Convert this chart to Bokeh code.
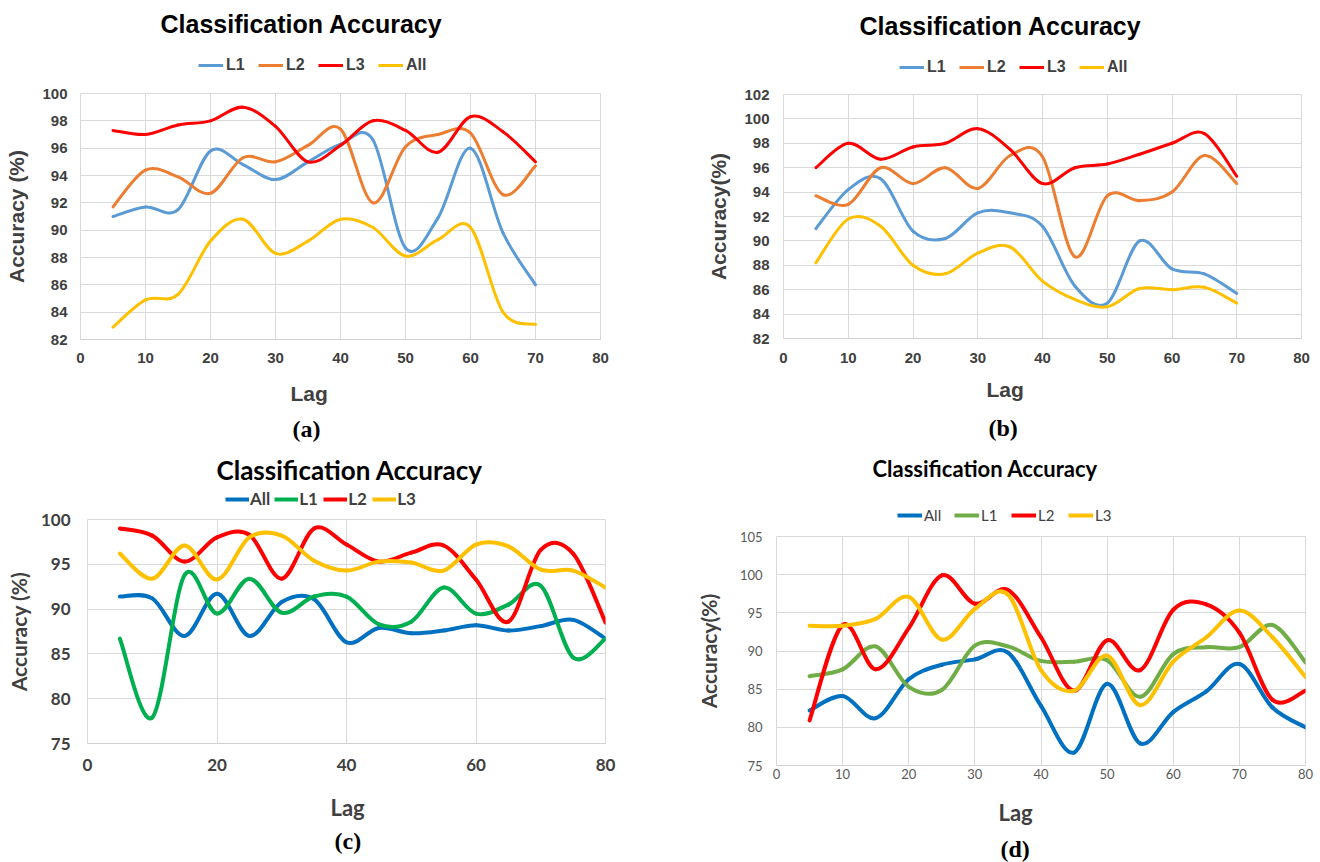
import numpy as np
from bokeh.plotting import figure
from bokeh.layouts import column, row
from bokeh.models import Legend, LegendItem, Label, FixedTicker, Range1d
from bokeh.embed import file_html
from bokeh.resources import INLINE

# ---------------- data ----------------
lags_ab = [5, 10, 15, 20, 25, 30, 35, 40, 45, 50, 55, 60, 65, 70]
lags_cd = [5, 10, 15, 20, 25, 30, 35, 40, 45, 50, 55, 60, 65, 70, 75, 80]

a_L1 = [91.0, 91.7, 91.5, 95.8, 94.8, 93.7, 95.0, 96.3, 96.6, 88.7, 90.9, 96.0, 89.8, 86.0]
a_L2 = [91.7, 94.4, 93.9, 92.7, 95.3, 95.0, 96.2, 97.4, 92.0, 96.1, 97.0, 97.1, 92.6, 94.7]
a_L3 = [97.3, 97.0, 97.7, 98.0, 99.0, 97.6, 95.0, 96.2, 98.0, 97.3, 95.7, 98.3, 97.2, 95.0]
a_All = [82.9, 84.9, 85.3, 89.2, 90.8, 88.3, 89.2, 90.8, 90.2, 88.1, 89.3, 90.2, 84.0, 83.1]

b_L1 = [91.0, 94.2, 95.1, 90.8, 90.2, 92.3, 92.3, 91.2, 86.3, 84.9, 90.0, 87.7, 87.3, 85.7]
b_L2 = [93.7, 93.0, 96.0, 94.7, 96.0, 94.3, 97.0, 96.9, 88.7, 93.7, 93.3, 94.0, 97.0, 94.7]
b_L3 = [96.0, 98.0, 96.7, 97.7, 98.0, 99.2, 97.5, 94.7, 96.0, 96.3, 97.1, 98.0, 98.8, 95.3]
b_All = [88.2, 91.8, 91.2, 88.0, 87.3, 89.0, 89.5, 86.7, 85.2, 84.6, 86.1, 86.0, 86.2, 84.9]

c_All = [91.4, 91.2, 87.0, 91.7, 87.0, 90.8, 91.1, 86.3, 87.9, 87.3, 87.6, 88.2, 87.6, 88.1, 88.8, 86.7]
c_L1 = [86.7, 77.9, 93.8, 89.5, 93.4, 89.6, 91.4, 91.4, 88.3, 88.6, 92.4, 89.5, 90.5, 92.6, 84.6, 86.7]
c_L2 = [99.0, 98.2, 95.3, 98.0, 98.3, 93.4, 99.0, 97.2, 95.3, 96.3, 97.1, 93.3, 88.6, 96.6, 96.2, 88.5]
c_L3 = [96.2, 93.4, 97.1, 93.3, 98.0, 98.2, 95.4, 94.3, 95.3, 95.2, 94.3, 97.2, 97.0, 94.4, 94.3, 92.4]

d_All = [82.2, 84.1, 81.2, 86.3, 88.2, 88.9, 89.8, 82.8, 76.7, 85.7, 77.9, 82.0, 84.7, 88.3, 82.6, 80.0]
d_L1 = [86.7, 87.6, 90.6, 85.3, 84.9, 90.7, 90.6, 88.7, 88.6, 88.8, 84.0, 89.6, 90.5, 90.5, 93.4, 88.5]
d_L2 = [80.9, 93.4, 87.6, 93.0, 99.9, 96.2, 98.0, 91.8, 84.8, 91.4, 87.5, 95.4, 96.1, 92.4, 83.6, 84.8]
d_L3 = [93.3, 93.3, 94.2, 97.1, 91.5, 95.5, 97.4, 87.5, 84.8, 89.4, 82.9, 88.6, 91.8, 95.3, 91.8, 86.6]

x_ticks_10 = [0, 10, 20, 30, 40, 50, 60, 70, 80]
x_ticks_20 = [0, 20, 40, 60, 80]
y_ticks_a = [82, 84, 86, 88, 90, 92, 94, 96, 98, 100]
y_ticks_b = [82, 84, 86, 88, 90, 92, 94, 96, 98, 100, 102]
y_ticks_c = [75, 80, 85, 90, 95, 100]
y_ticks_d = [75, 80, 85, 90, 95, 100, 105]

ARIAL = "Liberation Sans"
CALIBRI = "Lato"
TIMES = "Liberation Serif"
GRID = "#D9D9D9"
DARK = "#404040"
PANEL_W = 660


def smooth_segments(xs, ys):
    """Cubic Bezier pieces through every point (Catmull-Rom style, like a smoothed office chart line)."""
    x = np.asarray(xs, float)
    y = np.asarray(ys, float)
    n = len(x)
    xp = np.r_[x[0], x, x[-1]]
    yp = np.r_[y[0], y, y[-1]]
    return dict(
        x0=x[:-1], y0=y[:-1], x1=x[1:], y1=y[1:],
        cx0=x[:-1] + (xp[2:n + 1] - xp[0:n - 1]) / 6.0,
        cy0=y[:-1] + (yp[2:n + 1] - yp[0:n - 1]) / 6.0,
        cx1=x[1:] - (xp[3:n + 2] - xp[1:n]) / 6.0,
        cy1=y[1:] - (yp[3:n + 2] - yp[1:n]) / 6.0,
    )


def text_strip(height, bl, fw):
    """A bare strip (no axes) whose frame lines up with the chart frame below it.
    Its x data units equal pixels measured from the panel's left edge."""
    f = figure(frame_width=fw, height=height, output_backend="svg", toolbar_location=None,
               x_range=Range1d(bl, bl + fw), y_range=Range1d(0, height),
               x_axis_type=None, y_axis_type=None,
               min_border_left=bl, min_border_right=PANEL_W - bl - fw,
               min_border_top=0, min_border_bottom=0, title=None)
    f.grid.visible = False
    f.outline_line_color = None
    return f


def put_text(f, text, x, y, font, size, color, style="bold"):
    f.add_layout(Label(x=x, y=y, text=text, text_font=font, text_font_size=size,
                       text_font_style=style, text_color=color,
                       text_align="left", text_baseline="middle"))


def make_panel(s):
    bl, fw = s["bl"], s["fw"]

    # ---- header: title + legend
    head = text_strip(s["head_h"], bl, fw)
    put_text(head, "Classification Accuracy", s["title_x"], s["head_h"] - s["title_cy"],
             s["title_font"], s["title_size"], "black")

    # ---- chart
    p = figure(
        title=None, output_backend="svg", toolbar_location=None,
        frame_width=fw, frame_height=s["fh"],
        min_border_left=bl, min_border_right=PANEL_W - bl - fw,
        min_border_top=s["bt"], min_border_bottom=s["bb"],
        x_range=Range1d(0, 80), y_range=Range1d(s["yticks"][0], s["yticks"][-1]),
    )
    p.outline_line_color = GRID
    p.grid.grid_line_color = GRID
    p.grid.grid_line_width = 1
    p.xgrid.ticker = FixedTicker(ticks=s["xticks"])
    p.ygrid.ticker = FixedTicker(ticks=s["yticks"])

    for ax in (p.xaxis[0], p.yaxis[0]):
        ax.major_tick_in = 0
        ax.major_tick_out = 0
        ax.minor_tick_in = 0
        ax.minor_tick_out = 0
        ax.major_label_text_font = s["tick_font"]
        ax.major_label_text_font_size = s["tick_size"]
        ax.major_label_text_font_style = s["tick_style"]
        ax.major_label_text_color = s["tick_color"]
    p.xaxis.ticker = FixedTicker(ticks=s["xticks"])
    p.yaxis.ticker = FixedTicker(ticks=s["yticks"])
    p.xaxis.axis_line_color = "#D0D0D0"
    p.yaxis.axis_line_color = None
    p.xaxis.major_label_standoff = s["xstand"]
    p.yaxis.major_label_standoff = s["ystand"]
    p.yaxis.axis_label = s["ylabel"]
    p.yaxis.axis_label_text_font = s["label_font"]
    p.yaxis.axis_label_text_font_size = s["ylabel_size"]
    p.yaxis.axis_label_text_font_style = "bold"
    p.yaxis.axis_label_text_color = DARK
    p.yaxis.axis_label_standoff = s["ylabel_stand"]

    items = []
    for name, vals, color in s["series"]:
        p.bezier(line_color=color, line_width=s["lw"], line_cap="round",
                 **smooth_segments(s["x"], vals))
        # hidden twin in the header strip that supplies the legend swatch
        key = head.line(x=s["x"], y=vals, line_color=color, line_width=s["lw"], visible=False)
        items.append(LegendItem(label=name, renderers=[key]))

    legend = Legend(
        items=items, orientation="horizontal",
        location=(s["leg_x"] - bl, s["head_h"] - s["leg_bottom"]), margin=0, padding=0,
        spacing=s["leg_spacing"], glyph_width=s["glyph_w"], glyph_height=s["leg_h"],
        label_standoff=s["leg_stand"], label_height=s["leg_h"],
        label_text_font=s["leg_font"], label_text_font_size=s["leg_size"],
        label_text_font_style=s["leg_style"], label_text_color=DARK,
        border_line_color=None, background_fill_alpha=0,
        inactive_fill_alpha=0, click_policy="none",
    )
    head.add_layout(legend, "center")

    # ---- footer: axis title + panel caption
    foot_top = s["bt"] + s["fh"] + s["bb"]
    foot = text_strip(s["foot_h"], bl, fw)
    put_text(foot, "Lag", s["lag_x"], s["foot_h"] - (s["lag_cy"] - foot_top),
             s["label_font"], s["lag_size"], DARK)
    put_text(foot, s["caption"], s["cap_x"], s["foot_h"] - (s["cap_cy"] - foot_top),
             TIMES, "24px", "black")
    return column(head, p, foot, spacing=0)


common_ab = dict(
    x=lags_ab, xticks=x_ticks_10, lw=3,
    tick_font=ARIAL, tick_size="15px", tick_style="bold", tick_color=DARK,
    label_font=ARIAL, ylabel_size="21px", lag_size="21px",
    title_font=ARIAL, title_size="25px",
    leg_font=ARIAL, leg_size="16px", leg_style="bold",
    glyph_w=25, leg_stand=3, leg_spacing=12, leg_h=20,
)

# x positions are pixels from the panel's left edge; footer y centres are
# measured from the top of the chart part (below the header strip)
spec_a = dict(common_ab,
    head_h=83, fw=520, fh=246, bl=80, bt=10, bb=36, foot_h=75,
    yticks=y_ticks_a, ylabel="Accuracy (%)", xstand=13, ystand=13, ylabel_stand=11,
    series=[("L1", a_L1, "#5B9BD5"), ("L2", a_L2, "#ED7D31"),
            ("L3", a_L3, "#FF0000"), ("All", a_All, "#FFC000")],
    title_x=160, title_cy=23, leg_x=198, leg_bottom=75,
    lag_x=290, lag_cy=393 - 83, caption="(a)", cap_x=292, cap_cy=428 - 83,
)

spec_b = dict(common_ab,
    head_h=84, fw=518, fh=244, bl=123, bt=10, bb=36, foot_h=76,
    yticks=y_ticks_b, ylabel="Accuracy(%)", xstand=14, ystand=14, ylabel_stand=11,
    series=[("L1", b_L1, "#5B9BD5"), ("L2", b_L2, "#ED7D31"),
            ("L3", b_L3, "#FF0000"), ("All", b_All, "#FFC000")],
    title_x=199, title_cy=25, leg_x=239, leg_bottom=77,
    lag_x=326, lag_cy=389 - 84, caption="(b)", cap_x=328, cap_cy=427 - 84,
)

spec_c = dict(
    x=lags_cd, xticks=x_ticks_20, lw=4,
    head_h=59, fw=518, fh=224, bl=87, bt=10, bb=38, foot_h=81,
    yticks=y_ticks_c, ylabel="Accuracy (%)",
    tick_font=CALIBRI, tick_size="17px", tick_style="bold", tick_color=DARK,
    label_font=CALIBRI, ylabel_size="21px", lag_size="22px",
    xstand=15, ystand=17, ylabel_stand=7,
    series=[("All", c_All, "#0070C0"), ("L1", c_L1, "#00B050"),
            ("L2", c_L2, "#FF0000"), ("L3", c_L3, "#FFC000")],
    leg_font=CALIBRI, leg_size="17px", leg_style="bold",
    glyph_w=24, leg_stand=1, leg_spacing=4, leg_h=16,
    title_font=CALIBRI, title_size="26px", title_x=216, title_cy=19,
    leg_x=225, leg_bottom=59,
    lag_x=330, lag_cy=357 - 59, caption="(c)", cap_x=334, cap_cy=390 - 59,
)

spec_d = dict(
    x=lags_cd, xticks=x_ticks_10, lw=4,
    head_h=76, fw=529, fh=229, bl=116, bt=10, bb=22, foot_h=75,
    yticks=y_ticks_d, ylabel="Accuracy(%)",
    tick_font=CALIBRI, tick_size="13px", tick_style="normal", tick_color="#595959",
    label_font=CALIBRI, ylabel_size="21px", lag_size="22px",
    xstand=3, ystand=14, ylabel_stand=16,
    series=[("All", d_All, "#0070C0"), ("L1", d_L1, "#70AD47"),
            ("L2", d_L2, "#FF0000"), ("L3", d_L3, "#FFC000")],
    leg_font=CALIBRI, leg_size="15px", leg_style="normal",
    glyph_w=25, leg_stand=2, leg_spacing=10, leg_h=20,
    title_font=CALIBRI, title_size="22px", title_x=212, title_cy=18,
    leg_x=237, leg_bottom=75,
    lag_x=338, lag_cy=362 - 76, caption="(d)", cap_x=340, cap_cy=398 - 76,
)

panel_a = make_panel(spec_a)
panel_b = make_panel(spec_b)
panel_c = make_panel(spec_c)
panel_d = make_panel(spec_d)

layout = column(row(panel_a, panel_b, spacing=0), row(panel_c, panel_d, spacing=0), spacing=0)

with open("out.html", "w") as f:
    f.write(file_html(layout, INLINE))
